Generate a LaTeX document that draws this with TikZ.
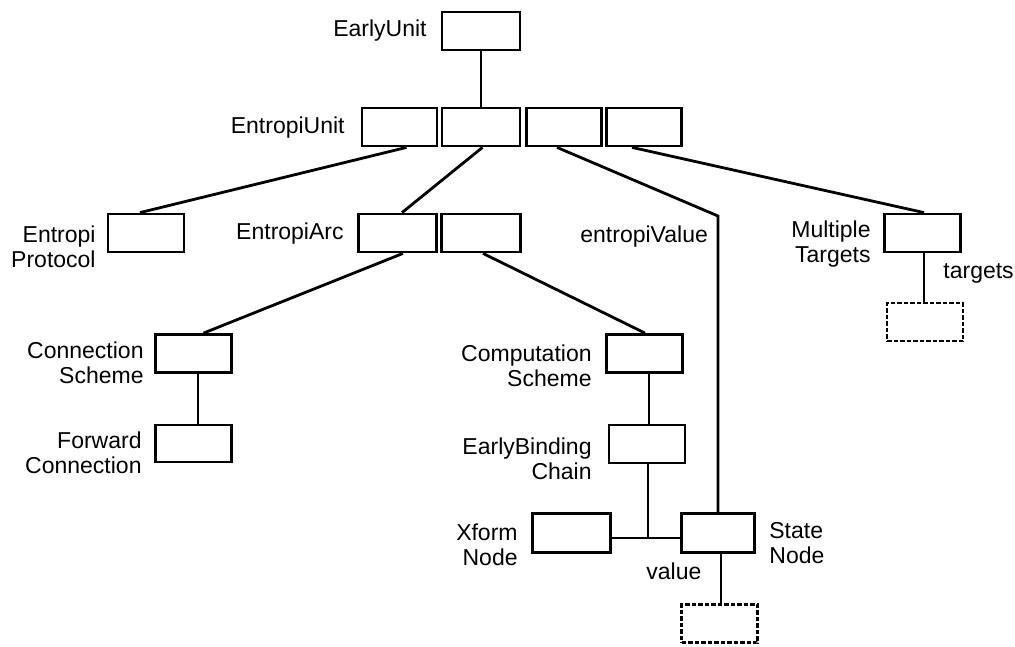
\documentclass[tikz,border=0pt]{standalone}
\usepackage{fontspec}
\setmainfont{Liberation Sans}
\begin{document}
\begin{tikzpicture}[x=1pt,y=-1pt,
  line width=2.8pt,
  slot/.style={draw, rectangle, inner sep=0pt, minimum width=76pt, minimum height=38pt},
  ghost/.style={slot, line width=2.2pt, dash pattern=on 4.5pt off 2pt},
  lbl/.style={inner sep=0pt, font=\fontsize{23}{25}\selectfont},
  lblr/.style={lbl, align=right, anchor=base east},
  lbll/.style={lbl, align=left, anchor=base west}]
\useasboundingbox (0,0) rectangle (1015,646);

% unit records
\node[slot, minimum width=78pt] (eu) at (481,31) {};
\node[slot, minimum width=75pt] (u1) at (399.5,127) {};
\node[slot, minimum width=78pt] (u2) at (481,127) {};
\node[slot, minimum width=75pt] (u3) at (564,127) {};
\node[slot, minimum width=75pt] (u4) at (644,127) {};

% second level
\node[slot] (ep) at (146,233) {};
\node[slot, minimum width=78pt] (a1) at (397.5,233) {};
\node[slot, minimum width=79pt] (a2) at (481,233) {};
\node[slot] (mt) at (922.5,233) {};
\node[ghost] (mtd) at (925,322) {};

% schemes
\node[slot] (cs) at (193.5,353.5) {};
\node[slot, minimum height=37pt] (fc) at (193.5,443.5) {};
\node[slot] (cp) at (644.5,353.5) {};
\node[slot] (eb) at (647,444) {};

% nodes
\node[slot, minimum width=78pt, minimum height=39pt] (xf) at (571.5,533) {};
\node[slot, minimum width=73pt, minimum height=39pt] (sn) at (718,533) {};
\node[ghost] (snd) at (719.5,623.5) {};

\coordinate (bend) at (718,216);
\coordinate (jn) at (648,538);

% connectors
\draw (eu.south) -- (u2.north);
\draw ([xshift=7pt]u1.south) -- ([xshift=-6pt]ep.north);
\draw ([xshift=1.5pt]u2.south) -- ([xshift=4.5pt]a1.north);
\draw ([xshift=-7pt]u3.south) -- (bend) -- (sn.north);
\draw ([xshift=-12pt]u4.south) -- ([xshift=1.5pt]mt.north);
\draw ([xshift=1.5pt]mt.south) -- ([xshift=-1pt]mtd.north);
\draw ([xshift=5.5pt]a1.south) -- ([xshift=10pt]cs.north);
\draw ([xshift=2pt]a2.south) -- ([xshift=0.5pt]cp.north);
\draw ([xshift=4.5pt]cs.south) -- ([xshift=4.5pt]fc.north);
\draw ([xshift=4.5pt]cp.south) -- ([xshift=2pt]eb.north);
\draw ([xshift=1pt]eb.south) -- (jn);
\draw ([yshift=-5pt]xf.east) -- ([yshift=-5pt]sn.west);
\draw ([xshift=3pt]sn.south) -- ([xshift=1.5pt]snd.north);

% labels (two-line labels are placed by the baseline of their last line)
\node[lblr] (t-eu) at (428,36) {EarlyUnit};
\node[lblr] (t-u) at (346,133) {EntropiUnit};
\node[lblr] (t-ep) at (97,267) {Entropi\\Protocol};
\node[lblr] (t-a) at (345,239) {EntropiArc};
\node[lbll] (t-ev) at (579,242) {entropiValue};
\node[lblr] (t-mt) at (872,262) {Multiple\\Targets};
\node[lbll] (t-tg) at (942,278) {targets};
\node[lblr] (t-cs) at (145,383) {Connection\\Scheme};
\node[lblr] (t-fc) at (143,473) {Forward\\Connection};
\node[lblr] (t-cp) at (593,386) {Computation\\Scheme};
\node[lblr] (t-eb) at (593,479) {EarlyBinding\\Chain};
\node[lblr] (t-xf) at (519,565) {Xform\\Node};
\node[lbll] (t-sn) at (768,563) {State\\Node};
\node[lbll] (t-v) at (645,579) {value};
\end{tikzpicture}
\end{document}
